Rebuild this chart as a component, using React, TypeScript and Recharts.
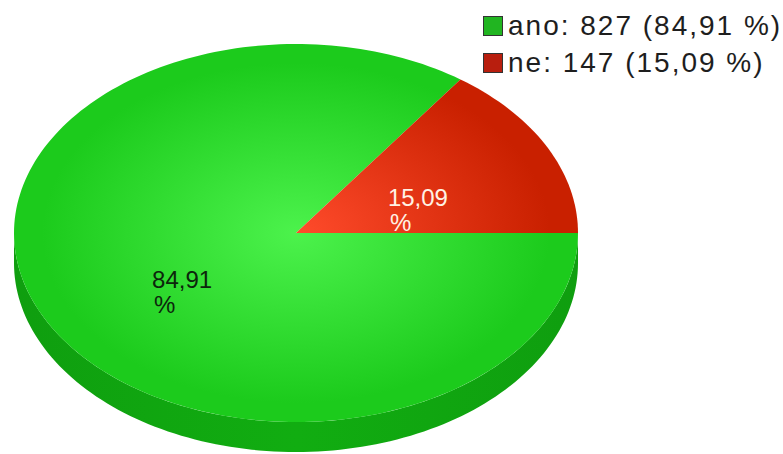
import { PieChart, Pie, Cell, Legend } from 'recharts';

const categories = ['ano', 'ne'];
const counts = [827, 147];
const topInner = ['#4cf24c', '#ff4b2b'];
const topOuter = ['#1ccb1c', '#c92000'];
const sideCenter = ['#11ad11', '#a01800'];
const sideEdge = ['#0f9e0f', '#8a1400'];
const legendColors = ['#21b521', '#b81e0e'];
const labelColors = ['#0c260c', '#fff2e4'];

const total = counts.reduce((a, b) => a + b, 0);
const pctText = (v: number) => ((v / total) * 100).toFixed(2).replace('.', ',');

const data = categories.map((name, i) => ({ name, value: counts[i] }));

const Y_SCALE = 189 / 282;
const DEPTH = 30;
const FONT = '"Liberation Sans", Arial, sans-serif';

function pt(cx: number, cy: number, r: number, deg: number, dy = 0): [number, number] {
  const rad = (deg * Math.PI) / 180;
  return [cx + r * Math.cos(rad), cy - r * Y_SCALE * Math.sin(rad) + dy];
}

function arc(cx: number, cy: number, r: number, from: number, to: number, dy = 0) {
  const n = Math.max(2, Math.ceil(Math.abs(to - from) / 1.5));
  const pts: [number, number][] = [];
  for (let i = 0; i <= n; i++) pts.push(pt(cx, cy, r, from + ((to - from) * i) / n, dy));
  return pts;
}

const toPath = (pts: [number, number][]) =>
  pts.map((p, i) => `${i ? 'L' : 'M'}${p[0].toFixed(2)},${p[1].toFixed(2)}`).join('') + 'Z';

function EllipseSlice(props: any) {
  const { cx, cy, outerRadius, startAngle, endAngle, index } = props;
  const lo = Math.min(startAngle, endAngle);
  const hi = Math.max(startAngle, endAngle);

  // visible side wall = front half of the ellipse (180..360)
  const walls: string[] = [];
  for (const k of [-360, 0, 360]) {
    const a = Math.max(lo, 180 + k);
    const b = Math.min(hi, 360 + k);
    if (b > a) {
      const top = arc(cx, cy, outerRadius, a, b);
      const bottom = arc(cx, cy, outerRadius, b, a, DEPTH);
      walls.push(toPath([...top, ...bottom]));
    }
  }

  const top = toPath([[cx, cy], ...arc(cx, cy, outerRadius, startAngle, endAngle)]);
  const gid = `top-grad-${index}`;
  const sid = `side-grad-${index}`;

  return (
    <g>
      <defs>
        <radialGradient
          id={gid}
          gradientUnits="userSpaceOnUse"
          cx={cx}
          cy={cy}
          r={outerRadius}
          gradientTransform={`translate(${cx} ${cy}) scale(1 ${Y_SCALE}) translate(${-cx} ${-cy})`}
        >
          <stop offset="0" stopColor={topInner[index]} />
          <stop offset="0.9" stopColor={topOuter[index]} />
          <stop offset="1" stopColor={topOuter[index]} />
        </radialGradient>
        <linearGradient id={sid} x1="0" y1="0" x2="1" y2="0">
          <stop offset="0" stopColor={sideEdge[index]} />
          <stop offset="0.5" stopColor={sideCenter[index]} />
          <stop offset="1" stopColor={sideEdge[index]} />
        </linearGradient>
      </defs>
      {walls.map((d, i) => (
        <path key={i} d={d} fill={`url(#${sid})`} stroke="none" />
      ))}
      <path d={top} fill={`url(#${gid})`} stroke="none" />
    </g>
  );
}

function renderLabel(props: any) {
  const { cx, cy, midAngle, outerRadius, index } = props;
  const [x, y] = pt(cx, cy, outerRadius * 0.47, midAngle);
  return (
    <text x={x - 26} y={y + 14} fill={labelColors[index]} fontSize={24} fontFamily={FONT}>
      <tspan x={x - 26}>{pctText(counts[index])}</tspan>
      <tspan x={x - 24} dy={25}>%</tspan>
    </text>
  );
}

function renderLegend() {
  return (
    <div style={{ fontFamily: FONT }}>
      {categories.map((name, i) => (
        <div key={name} style={{ display: 'flex', alignItems: 'center', height: 37 }}>
          <span
            style={{
              width: 18,
              height: 18,
              background: legendColors[i],
              border: '1px solid #333',
              marginRight: 5,
              flexShrink: 0,
            }}
          />
          <span style={{ fontSize: 28, letterSpacing: 2, color: '#1e1e1e', whiteSpace: 'nowrap' }}>
            {`${name}: ${counts[i]} (${pctText(counts[i])} %)`}
          </span>
        </div>
      ))}
    </div>
  );
}

export default function App() {
  return (
    <div style={{ position: 'absolute', left: 0, top: 0, width: 783, height: 454, background: '#fff' }}>
      <PieChart width={783} height={454} margin={{ top: 0, right: 0, bottom: 0, left: 0 }}>
        <Pie
          data={data}
          dataKey="value"
          nameKey="name"
          cx={296}
          cy={233}
          outerRadius={282}
          startAngle={360}
          endAngle={0}
          stroke="none"
          shape={EllipseSlice}
          label={renderLabel}
          labelLine={false}
          isAnimationActive={false}
        >
          {data.map((d, i) => (
            <Cell key={d.name} fill={topOuter[i]} />
          ))}
        </Pie>
        <Legend
          layout="vertical"
          verticalAlign="top"
          align="right"
          content={renderLegend}
          wrapperStyle={{ top: 7, left: 483, width: 300 }}
        />
      </PieChart>
    </div>
  );
}
